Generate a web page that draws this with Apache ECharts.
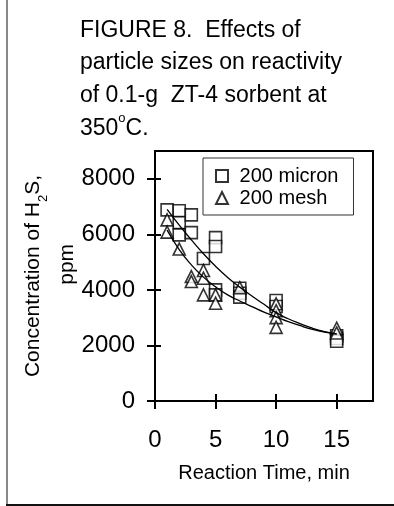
<!DOCTYPE html>
<html>
<head>
<meta charset="utf-8">
<script src="https://cdn.jsdelivr.net/npm/echarts@6/dist/echarts.min.js"></script>
<style>
html,body{margin:0;padding:0;background:#fff;}
#c{width:394px;height:506px;}
</style>
</head>
<body>
<div id="c"></div>
<script>
// ---- data ----
const microTime = [1, 2, 2, 2, 3, 3, 4, 5, 5, 5, 5, 7, 7, 7, 10, 10, 15, 15, 15];
const microConc = [6880, 6850, 6420, 5980, 6700, 6060, 5130, 5880, 5560, 4000, 3820, 4060, 3880, 3740, 3620, 3400, 2350, 2250, 2150];
const meshTime = [1, 1, 2, 3, 3, 4, 4, 4, 5, 5, 7, 10, 10, 10, 10, 15, 15];
const meshConc = [6520, 6080, 5470, 4480, 4300, 4700, 4420, 3820, 3820, 3520, 4080, 3500, 3250, 3000, 2650, 2620, 2450];
const fitTime = [1, 2, 3, 4, 5, 6, 7, 8, 9, 10, 11, 12, 13, 14, 15];
const microFit = [6900, 6330, 5800, 5300, 4850, 4450, 4100, 3780, 3480, 3180, 2960, 2780, 2620, 2500, 2420];
const meshFit = [6150, 5450, 4900, 4460, 4110, 3820, 3600, 3400, 3200, 3030, 2860, 2710, 2580, 2480, 2410];
const xTicks = [0, 5, 10, 15];
const yTicks = [0, 2000, 4000, 6000, 8000];
const seriesNames = [' 200 micron', ' 200 mesh'];
const titleLines = ['FIGURE 8.  Effects of', 'particle sizes on reactivity', 'of 0.1-g  ZT-4 sorbent at', '350{sup|o}C.'];
const xName = 'Reaction Time, min';
const yName = 'Concentration of H{sub|2}S,\n    ppm';

const FONT = 'Liberation Sans';
const zip = (a, b) => a.map((v, i) => [v, b[i]]);
const plain = v => String(v);

const chart = echarts.init(document.getElementById('c'), null, {renderer: 'canvas'});
const axisX = (inside, len, main) => ({
  type: 'value', min: 0, max: 18, position: 'bottom',
  axisLine: {show: main, lineStyle: {color: '#000', width: 2}},
  axisTick: {show: true, inside: inside, length: len, customValues: xTicks, lineStyle: {color: '#000', width: 2}},
  axisLabel: {show: main, customValues: xTicks, formatter: plain, margin: 27, color: '#000', fontFamily: FONT, fontSize: 24},
  splitLine: {show: false},
  name: main ? xName : '', nameLocation: 'middle', nameGap: 62, nameMoveOverlap: false,
  nameTextStyle: {color: '#000', fontFamily: FONT, fontSize: 20}
});
const axisY = (inside, len, main) => ({
  type: 'value', min: 0, max: 9000, position: 'left',
  axisLine: {show: main, lineStyle: {color: '#000', width: 2}},
  axisTick: {show: true, inside: inside, length: len, customValues: yTicks, lineStyle: {color: '#000', width: 2}},
  axisLabel: {show: main, customValues: yTicks, formatter: plain, margin: 20, color: '#000', fontFamily: FONT, fontSize: 24},
  splitLine: {show: false},
  name: main ? yName : '', nameLocation: 'middle', nameGap: 71, nameRotate: 90, nameMoveOverlap: false,
  nameTextStyle: {color: '#000', fontFamily: FONT, fontSize: 21, lineHeight: 34,
    rich: {sub: {fontSize: 13, fontFamily: FONT, color: '#000', verticalAlign: 'bottom', lineHeight: 34, padding: [8, 0, 0, 0]}}}
});
const markerStyle = {color: '#fff', borderColor: '#000', borderWidth: 1.6};
const option = {
  backgroundColor: '#fff',
  animation: false,
  title: {
    text: titleLines.join('\n'), left: 80, top: 14, padding: 0,
    textStyle: {color: '#000', fontFamily: FONT, fontSize: 23, fontWeight: 'normal', lineHeight: 32.7,
      rich: {sup: {fontSize: 13, fontFamily: FONT, color: '#000', verticalAlign: 'top', lineHeight: 32.7, padding: [0, 0, 10, 0]}}}
  },
  grid: {left: 155, right: 21, top: 151, bottom: 105, show: true, borderColor: '#000', borderWidth: 2,
    backgroundColor: 'transparent', containLabel: false, outerBoundsMode: 'none'},
  legend: {
    left: 203, top: 158, orient: 'vertical', padding: [8, 15, 7, 12], itemGap: 2,
    itemWidth: 12, itemHeight: 12, borderColor: '#333', borderWidth: 1,
    textStyle: {color: '#000', fontFamily: FONT, fontSize: 20, padding: [0, 0, 0, 1]},
    data: [{name: seriesNames[0], icon: 'rect'}, {name: seriesNames[1], icon: 'triangle'}]
  },
  xAxis: [axisX(false, 8, true), axisX(true, 7, false)],
  yAxis: [axisY(false, 8, true), axisY(true, 6, false)],
  series: [
    {name: seriesNames[0], type: 'scatter', symbol: 'rect', symbolSize: 12, data: zip(microTime, microConc), itemStyle: markerStyle},
    {name: seriesNames[1], type: 'scatter', symbol: 'triangle', symbolSize: 12, data: zip(meshTime, meshConc), itemStyle: markerStyle},
    {name: 'fit1', type: 'line', smooth: true, symbol: 'none', data: zip(fitTime, microFit), lineStyle: {color: '#000', width: 1.3}, z: 3},
    {name: 'fit2', type: 'line', smooth: true, symbol: 'none', data: zip(fitTime, meshFit), lineStyle: {color: '#000', width: 1.3}, z: 3}
  ],
  graphic: [
    {type: 'line', shape: {x1: 7, y1: 0, x2: 7, y2: 506}, style: {stroke: '#888', lineWidth: 2}},
    {type: 'line', shape: {x1: 6, y1: 505, x2: 394, y2: 505}, style: {stroke: '#111', lineWidth: 2}}
  ]
};
chart.setOption(option);
</script>
</body>
</html>
